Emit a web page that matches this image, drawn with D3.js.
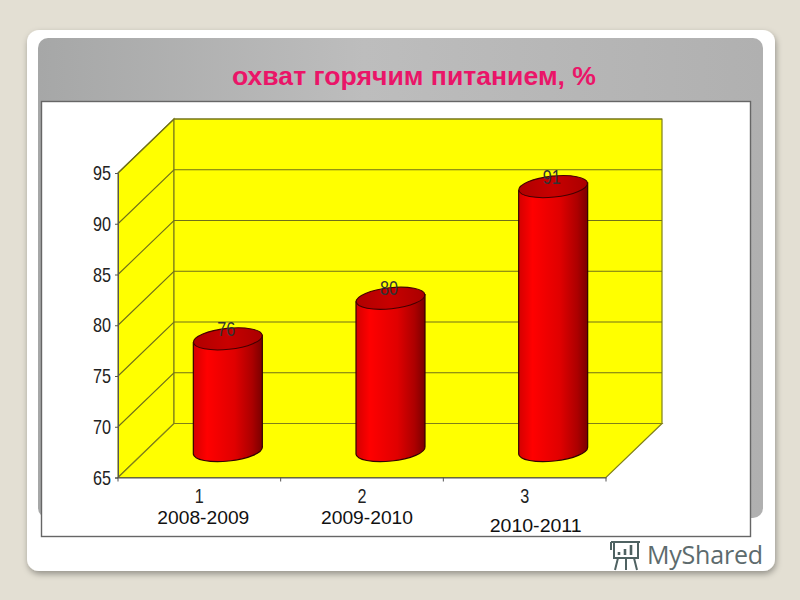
<!DOCTYPE html>
<html><head><meta charset="utf-8">
<script src="https://cdn.jsdelivr.net/npm/d3@7"></script>
<style>html,body{margin:0;padding:0;background:#e3dfd3;overflow:hidden}svg{display:block}</style>
</head><body><svg id="c" width="800" height="600"></svg>
<script>
const categories = ["1","2","3"];
const periods = ["2008-2009","2009-2010","2010-2011"];
const values = [76,80,91];
const yTicks = [65,70,75,80,85,90,95];
const titleText = "охват горячим питанием, %";
const watermark = "MyShared";

const svg = d3.select("#c");
const defs = svg.append("defs");
const dx = 56, dy = -54, rx = 34.5, ry = 10.5, tilt = -6;
const tiltY = rx*Math.sin(-tilt*Math.PI/180);
const y = d3.scaleLinear().domain([65,95]).range([477.5,173]);
const x = d3.scaleBand().domain(categories).range([118,606]);

const blur = defs.append("filter").attr("id","sh").attr("x","-5%").attr("y","-5%").attr("width","110%").attr("height","110%");
blur.append("feDropShadow").attr("dx",1).attr("dy",3).attr("stdDeviation",3).attr("flood-color","#000").attr("flood-opacity",.35);

const pg = defs.append("linearGradient").attr("id","panel").attr("x1",0).attr("x2",1).attr("y1",0).attr("y2",0);
[[0,"#a6a7a7"],[.45,"#bdbdbd"],[1,"#b0b0b0"]].forEach(s=>pg.append("stop").attr("offset",s[0]).attr("stop-color",s[1]));
const bg = defs.append("linearGradient").attr("id","bar").attr("x1",0).attr("x2",1).attr("y1",0).attr("y2",0);
[[0,"#d40000"],[.2,"#ff0000"],[.6,"#e00000"],[.85,"#ac0000"],[1,"#7a0000"]].forEach(s=>bg.append("stop").attr("offset",s[0]).attr("stop-color",s[1]));
const tg = defs.append("linearGradient").attr("id","top").attr("x1",0).attr("x2",1).attr("y1",0).attr("y2",0);
[[0,"#b00000"],[.5,"#c80000"],[1,"#aa0000"]].forEach(s=>tg.append("stop").attr("offset",s[0]).attr("stop-color",s[1]));

// slide
svg.append("rect").attr("x",27).attr("y",30).attr("width",748).attr("height",541).attr("rx",12).attr("fill","#fff").attr("filter","url(#sh)");
svg.append("rect").attr("x",38).attr("y",38).attr("width",725).attr("height",480).attr("rx",10).attr("fill","url(#panel)");
svg.append("rect").attr("x",41.5).attr("y",101.5).attr("width",709).attr("height",435).attr("fill","#fff").attr("stroke","#666").attr("stroke-width",1.4);

svg.append("text").attr("x",414).attr("y",85).attr("text-anchor","middle")
  .attr("font-family","Liberation Sans").attr("font-weight",700).attr("font-size",25.5)
  .attr("textLength",364).attr("lengthAdjust","spacingAndGlyphs").attr("fill","#ea1568").text(titleText);

const x0=x.range()[0], x1=x.range()[1], yb=y(65), yt=y(95);
const wall = svg.append("g").attr("fill","#ffff00").attr("stroke","#80801a").attr("stroke-width",1.2);
const poly = pts => pts.map(p=>p.join(",")).join(" ");
wall.append("polygon").attr("points",poly([[x0,yt],[x0+dx,yt+dy],[x0+dx,yb+dy],[x0,yb]]));
wall.append("polygon").attr("points",poly([[x0+dx,yt+dy],[x1+dx,yt+dy],[x1+dx,yb+dy],[x0+dx,yb+dy]]));
wall.append("polygon").attr("points",poly([[x0,yb],[x0+dx,yb+dy],[x1+dx,yb+dy],[x1,yb]]));

const grid = svg.append("g").attr("fill","none");
grid.selectAll("path.g").data(yTicks.slice(1)).join("path").attr("class","g")
  .attr("d",v=>`M${x0},${y(v)}L${x0+dx},${y(v)+dy}L${x1+dx},${y(v)+dy}`)
  .attr("stroke","#70701a").attr("stroke-width",1.1);

// axes: narrow glyphs as in the reference
const narrow = sel => sel.attr("font-family","Liberation Sans").attr("font-size",21).attr("fill","#222")
  .attr("lengthAdjust","spacingAndGlyphs").attr("textLength",function(){return this.textContent.length*9;});
const ax = svg.append("g").attr("transform",`translate(${x0},0)`).call(d3.axisLeft(y).tickValues(yTicks).tickSize(3).tickPadding(4));
ax.selectAll("text").call(narrow); ax.selectAll("path,line").attr("stroke","#555");
const axb = svg.append("g").attr("transform",`translate(0,${yb})`).call(d3.axisBottom(x).tickSize(0).tickPadding(11));
axb.selectAll("text").call(narrow); axb.selectAll("path").attr("stroke","#555");
axb.selectAll("line.b").data(d3.range(4)).join("line").attr("class","b")
  .attr("x1",i=>x0+i*x.step()).attr("x2",i=>x0+i*x.step()).attr("y1",0).attr("y2",4).attr("stroke","#555");

// cylinders
const cy = v => y(v)+dy/2;
const cx = d => x(d)+x.bandwidth()/2+dx/2+.5;
const bars = svg.append("g").selectAll("g").data(categories.map((c,i)=>({c,v:values[i]}))).join("g");
bars.append("path").attr("fill","url(#bar)").attr("stroke","#300").attr("stroke-width",1.2)
  .attr("d",d=>{const c=cx(d.c);return `M${c-rx},${cy(d.v)+tiltY}L${c-rx},${cy(65)+tiltY}A${rx},${ry} ${tilt} 0 0 ${c+rx},${cy(65)-tiltY}L${c+rx},${cy(d.v)-tiltY}Z`;});
bars.append("ellipse").attr("fill","url(#top)").attr("stroke","#400").attr("stroke-width",1.1)
  .attr("cx",d=>cx(d.c)).attr("cy",d=>cy(d.v)).attr("rx",rx).attr("ry",ry)
  .attr("transform",d=>`rotate(${tilt} ${cx(d.c)} ${cy(d.v)})`);
bars.append("text").attr("x",d=>cx(d.c)-1.5).attr("y",d=>cy(d.v)-3).attr("text-anchor","middle")
  .call(narrow).attr("fill","#333").text(d=>d.v).attr("textLength",18);

// period captions
const capDx=[4,5,11], capY=[524,524,532];
svg.append("g").selectAll("text").data(periods).join("text")
  .attr("x",(d,i)=>x(categories[i])+x.bandwidth()/2+capDx[i]).attr("y",(d,i)=>capY[i]).attr("text-anchor","middle")
  .attr("font-family","Liberation Sans").attr("font-size",18).attr("textLength",92).attr("lengthAdjust","spacingAndGlyphs").attr("fill","#111").text(d=>d);

// watermark
const w = svg.append("g").attr("fill","none").attr("stroke","#4f6262").attr("stroke-width",2);
w.append("path").attr("d","M611,542H640M614,542V558H638V542M618,558L615,570M626,558V570M634,558L637,570M611,542V550");
w.append("path").attr("d","M619,555V552M625,555V549M631,555V545").attr("stroke-width",2.6);
svg.append("text").attr("x",647).attr("y",564).attr("font-family","Open Sans").attr("font-size",25).attr("fill","#5d6b6d").attr("textLength",116).text(watermark);
</script></body></html>
